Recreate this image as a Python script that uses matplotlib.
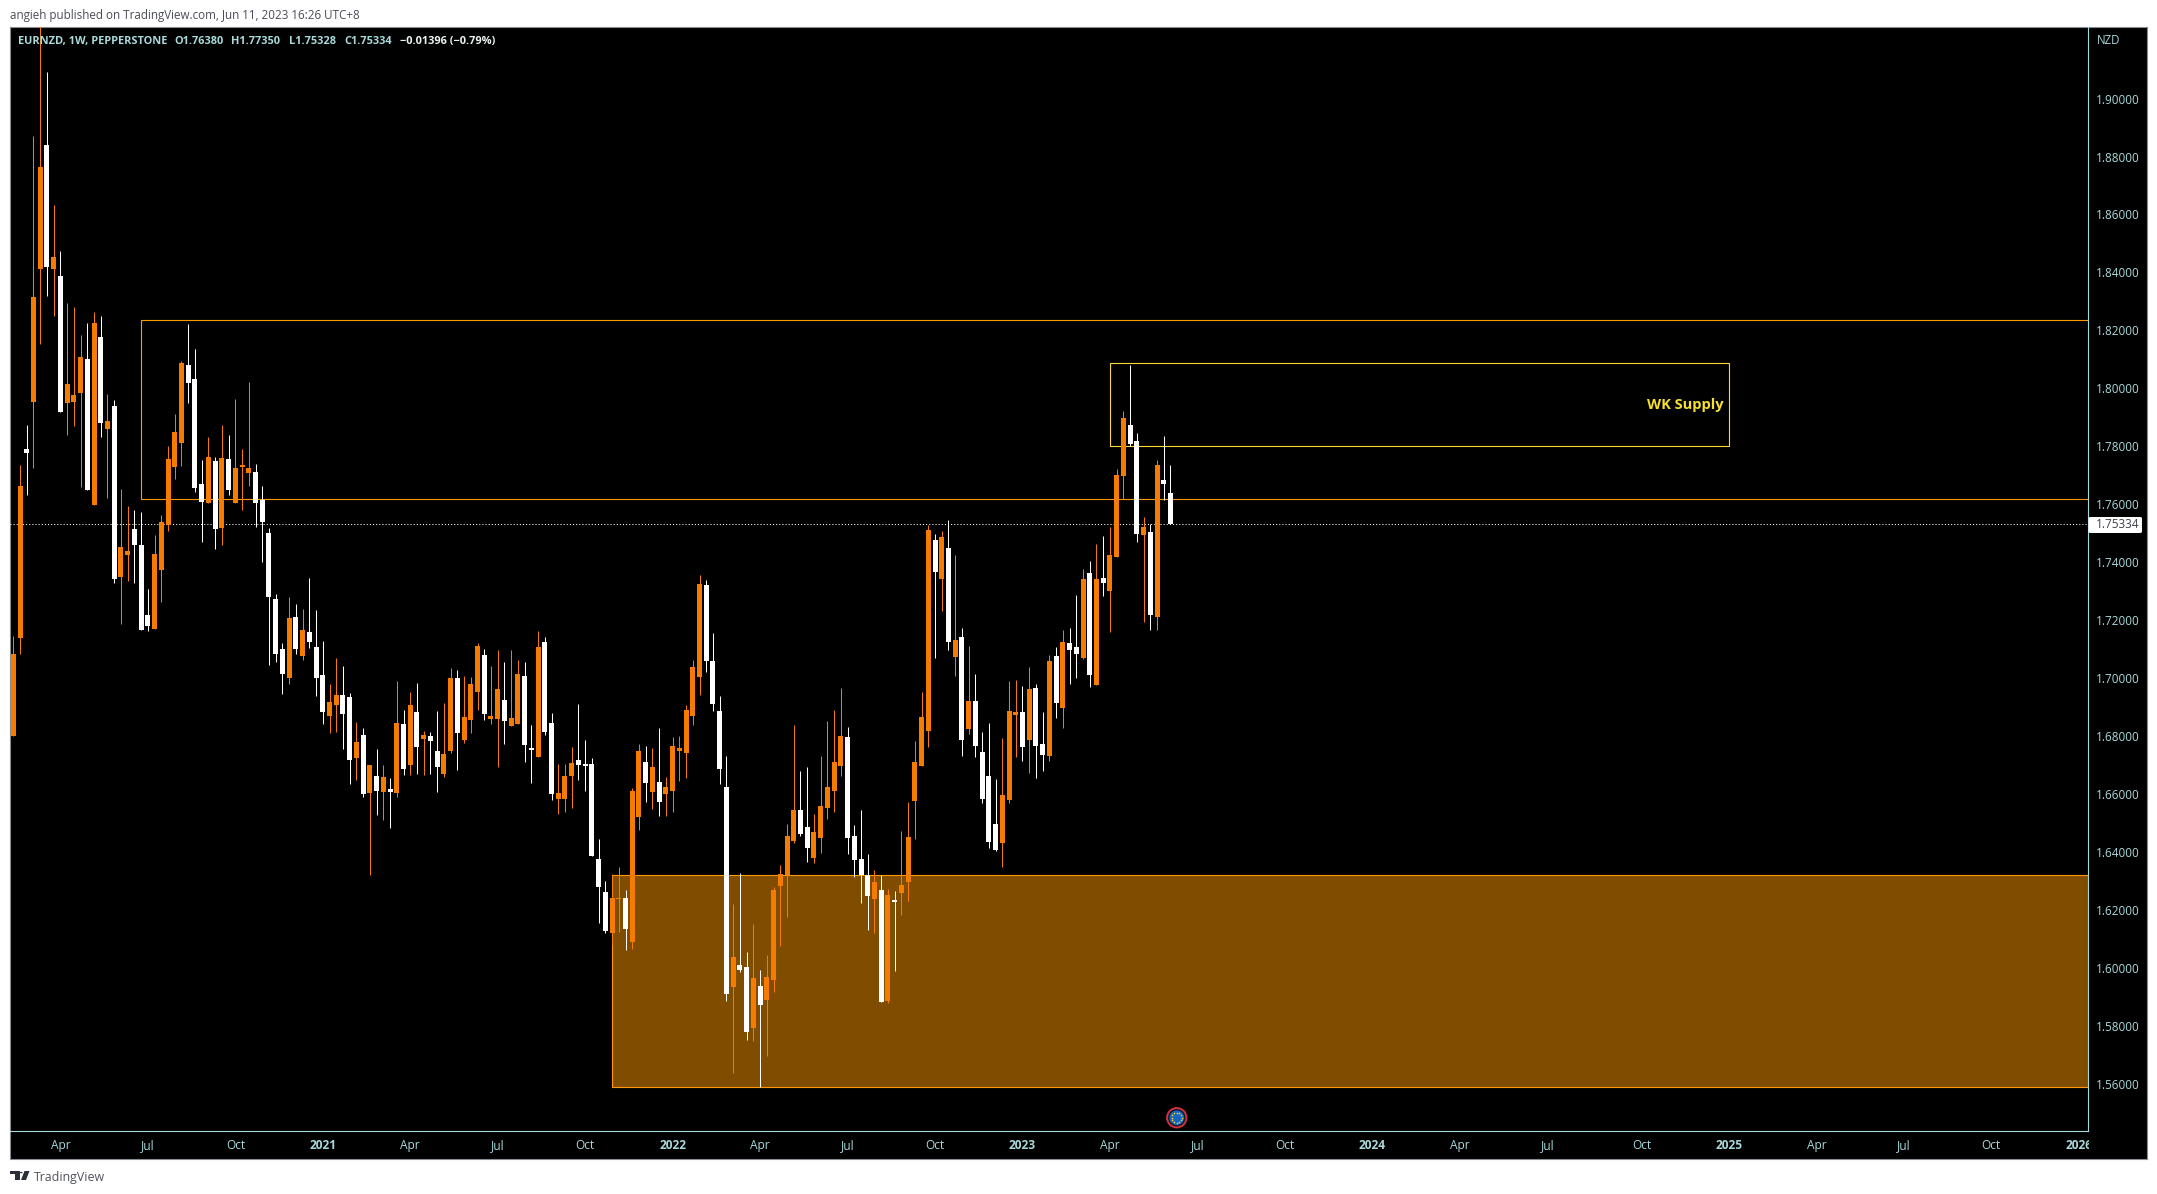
import numpy as np
import pandas as pd
import matplotlib
matplotlib.use("Agg")
import matplotlib.pyplot as plt
import matplotlib.dates as mdates
from matplotlib.patches import Rectangle, Circle, Polygon, FancyBboxPatch

plt.rcParams['font.family'] = ['Open Sans', 'DejaVu Sans']

#Weekly EURNZD candles
start_week = "2020-02-17"
opens = [1.6801,1.7139,1.7791,1.7953,1.8412,1.8840,1.8412,1.8388,1.7950,1.7953,
         1.7984,1.8101,1.7598,1.8177,1.7860,1.7939,1.7349,1.7425,1.7515,1.7460,
         1.7218,1.7170,1.7373,1.7529,1.7729,1.7812,1.8081,1.8032,1.7670,1.7605,
         1.7750,1.7518,1.7756,1.7605,1.7729,1.7708,1.7712,1.7615,1.7501,1.7273,
         1.7101,1.7001,1.7211,1.7077,1.7160,1.7108,1.7011,1.6870,1.6908,1.6942,
         1.6935,1.6725,1.6804,1.6604,1.6663,1.6608,1.6618,1.6604,1.6842,1.6701,
         1.6884,1.6790,1.6801,1.6749,1.6670,1.6749,1.7001,1.6787,1.6856,1.6953,
         1.7080,1.6859,1.6859,1.6925,1.6835,1.6842,1.7008,1.6759,1.6728,1.7125,
         1.6846,1.6583,1.6583,1.6663,1.6718,1.6704,1.6704,1.6376,1.6263,1.6121,
         1.6238,1.6242,1.6090,1.6521,1.6711,1.6608,1.6642,1.6601,1.6611,1.6749,
         1.6742,1.6870,1.7004,1.7322,1.7060,1.6887,1.6625,1.5935,1.6011,1.6004,
         1.5793,1.5938,1.5890,1.5959,1.6283,1.6321,1.6439,1.6545,1.6487,1.6380,
         1.6449,1.6552,1.6611,1.6697,1.6797,1.6456,1.6376,1.6321,1.6238,1.6269,
         1.5887,1.6235,1.6259,1.6297,1.6577,1.6697,1.6818,1.7477,1.7342,1.7449,
         1.7073,1.7142,1.6825,1.6922,1.6746,1.6663,1.6497,1.6432,1.6580,1.6873,
         1.6884,1.6787,1.6966,1.6773,1.6732,1.7077,1.6897,1.7122,1.7108,1.7070,
         1.7363,1.6977,1.7346,1.7301,1.7418,1.7698,1.7874,1.7819,1.7494,1.7505,
         1.7211,1.7684,1.76380]
highs = [1.7146,1.7736,1.7874,1.8871,1.9271,1.9092,1.8633,1.8474,1.8295,1.8281,
         1.8184,1.8226,1.8264,1.8250,1.7981,1.7960,1.7653,1.7594,1.7581,1.7574,
         1.7308,1.7494,1.7563,1.7801,1.7912,1.8095,1.8222,1.8136,1.7753,1.7832,
         1.7763,1.7874,1.7839,1.7963,1.7791,1.8022,1.7739,1.7663,1.7518,1.7291,
         1.7122,1.7280,1.7256,1.7239,1.7346,1.7236,1.7129,1.6980,1.7070,1.7042,
         1.6949,1.6849,1.6828,1.6701,1.6756,1.6701,1.6656,1.6991,1.6891,1.6953,
         1.6984,1.6818,1.6815,1.6887,1.6915,1.7035,1.7028,1.7008,1.7004,1.7122,
         1.7101,1.7042,1.7097,1.7056,1.7097,1.7063,1.7056,1.6839,1.7163,1.7142,
         1.6880,1.6704,1.6704,1.6763,1.6911,1.6787,1.6725,1.6445,1.6301,1.6325,
         1.6349,1.6269,1.6621,1.6773,1.6766,1.6759,1.6828,1.6659,1.6797,1.6801,
         1.6908,1.7063,1.7356,1.7339,1.7156,1.6939,1.6732,1.6221,1.6328,1.6056,
         1.6152,1.5993,1.6045,1.6280,1.6356,1.6497,1.6839,1.6680,1.6694,1.6532,
         1.6732,1.6853,1.6891,1.6966,1.6832,1.6494,1.6545,1.6394,1.6339,1.6321,
         1.6273,1.6266,1.6473,1.6573,1.6784,1.6953,1.7529,1.7498,1.7508,1.7546,
         1.7425,1.7173,1.7111,1.7015,1.6815,1.6846,1.6652,1.6794,1.6991,1.6994,
         1.6973,1.7039,1.6980,1.6884,1.7080,1.7108,1.7166,1.7173,1.7287,1.7377,
         1.7405,1.7463,1.7491,1.7522,1.7722,1.7922,1.8081,1.7846,1.7556,1.7532,
         1.7753,1.7836,1.77350]
lows = [1.6801,1.7084,1.7632,1.7725,1.8153,1.8319,1.8250,1.7919,1.7839,1.7870,
        1.7660,1.7650,1.7598,1.7832,1.7622,1.7329,1.7187,1.7336,1.7329,1.7166,
        1.7163,1.7170,1.7263,1.7508,1.7687,1.7732,1.7950,1.7643,1.7470,1.7605,
        1.7446,1.7460,1.7632,1.7605,1.7581,1.7663,1.7522,1.7401,1.7046,1.7056,
        1.6946,1.6980,1.7084,1.7063,1.7104,1.6939,1.6842,1.6811,1.6815,1.6756,
        1.6635,1.6649,1.6590,1.6321,1.6528,1.6511,1.6483,1.6590,1.6666,1.6666,
        1.6670,1.6666,1.6670,1.6608,1.6659,1.6742,1.6684,1.6777,1.6811,1.6891,
        1.6856,1.6842,1.6694,1.6773,1.6835,1.6842,1.6711,1.6639,1.6728,1.6804,
        1.6580,1.6532,1.6539,1.6552,1.6649,1.6611,1.6387,1.6156,1.6121,1.6080,
        1.6125,1.6063,1.6066,1.6477,1.6573,1.6549,1.6525,1.6525,1.6539,1.6646,
        1.6656,1.6839,1.6942,1.7022,1.6887,1.6635,1.5887,1.5638,1.5987,1.5752,
        1.5749,1.5590,1.5697,1.5918,1.6076,1.6176,1.6432,1.6456,1.6366,1.6363,
        1.6397,1.6514,1.6539,1.6663,1.6394,1.6314,1.6225,1.6131,1.6121,1.5883,
        1.5880,1.5990,1.6183,1.6232,1.6445,1.6697,1.6763,1.7070,1.7232,1.7097,
        1.7008,1.6732,1.6808,1.6728,1.6570,1.6414,1.6404,1.6349,1.6570,1.6728,
        1.6715,1.6673,1.6656,1.6680,1.6715,1.6863,1.6828,1.6980,1.7001,1.7066,
        1.6970,1.6977,1.7284,1.7160,1.7418,1.7618,1.7801,1.7470,1.7194,1.7166,
        1.7166,1.7615,1.75328]
closes = [1.7084,1.7663,1.7777,1.8315,1.8764,1.8419,1.8453,1.7919,1.8015,1.7977,
          1.8108,1.7650,1.8226,1.7881,1.7888,1.7342,1.7453,1.7439,1.7460,1.7166,
          1.7180,1.7429,1.7539,1.7756,1.7850,1.8088,1.8019,1.7656,1.7608,1.7763,
          1.7515,1.7760,1.7650,1.7725,1.7736,1.7725,1.7605,1.7539,1.7280,1.7084,
          1.7015,1.7208,1.7101,1.7166,1.7125,1.7001,1.6884,1.6918,1.6942,1.6877,
          1.6718,1.6780,1.6601,1.6701,1.6611,1.6659,1.6608,1.6846,1.6687,1.6908,
          1.6763,1.6804,1.6784,1.6694,1.6739,1.7001,1.6811,1.6866,1.6980,1.7111,
          1.6877,1.6870,1.6963,1.6853,1.6863,1.7015,1.6770,1.6753,1.7108,1.6815,
          1.6601,1.6604,1.6663,1.6708,1.6701,1.6697,1.6387,1.6280,1.6128,1.6242,
          1.6242,1.6135,1.6611,1.6749,1.6639,1.6694,1.6573,1.6625,1.6766,1.6759,
          1.6891,1.7039,1.7325,1.7060,1.6911,1.6687,1.5911,1.6038,1.5993,1.5780,
          1.5966,1.5873,1.5969,1.6269,1.6325,1.6456,1.6545,1.6463,1.6414,1.6470,
          1.6559,1.6625,1.6711,1.6801,1.6449,1.6373,1.6321,1.6249,1.6297,1.5883,
          1.6252,1.6228,1.6287,1.6452,1.6711,1.6866,1.7512,1.7367,1.7487,1.7125,
          1.7132,1.6787,1.6922,1.6766,1.6583,1.6435,1.6407,1.6597,1.6887,1.6884,
          1.6763,1.6963,1.6766,1.6735,1.7060,1.6915,1.7125,1.7097,1.7084,1.7342,
          1.7011,1.7342,1.7329,1.7425,1.7701,1.7898,1.7808,1.7498,1.7522,1.7218,
          1.7736,1.7670,1.75334]

#Axis ticks
price_ticks = [1.56,1.58,1.60,1.62,1.64,1.66,1.68,1.70,1.72,1.74,1.76,1.78,
               1.80,1.82,1.84,1.86,1.88,1.90]
tick_dates = ["2020-04-06","2020-07-06","2020-10-05","2021-01-04","2021-04-05",
              "2021-07-05","2021-10-04","2022-01-03","2022-04-04","2022-07-04",
              "2022-10-03","2023-01-02","2023-04-03","2023-07-03","2023-10-02",
              "2024-01-01","2024-04-01","2024-07-01","2024-10-07","2025-01-06",
              "2025-04-07","2025-07-07","2025-10-06","2026-01-05"]
tick_labels = ["Apr","Jul","Oct","2021","Apr","Jul","Oct","2022","Apr","Jul","Oct",
               "2023","Apr","Jul","Oct","2024","Apr","Jul","Oct","2025","Apr","Jul",
               "Oct","2026"]

#Zones drawn on the chart
last_price = 1.75334
outline_zone = ("2020-06-29", 1.7617, 1.8235)
filled_zone = ("2021-11-01", 1.5590, 1.6320)
supply_zone = ("2023-04-03", "2025-01-06", 1.7800, 1.8087)

W, H = 2157, 1194
ORANGE = "#f57c00"
ZONE = "#ff9800"
YELLOW = "#fdd835"
TEAL = "#a8dadc"

def fx(px):
    return px / W

def fy(py):
    return 1 - py / H

def axes_box(x0, y0, x1, y1):
    return [fx(x0), fy(y1), (x1 - x0) / W, (y1 - y0) / H]

fig = plt.figure(figsize=(W / 100, H / 100), dpi=100, facecolor="white")

#black panel with grey border behind everything
frame = fig.add_axes(axes_box(10, 27, 2147, 1159), zorder=-1)
frame.set_facecolor("black")
frame.set_xticks([])
frame.set_yticks([])
for s in frame.spines.values():
    s.set_color("#8a8c94")
    s.set_linewidth(0.8)

ax = fig.add_axes(axes_box(10, 27, 2087.5, 1131), zorder=0)
ax.patch.set_alpha(0)

weeks = pd.date_range(start_week, periods=len(opens), freq="7D")
x = mdates.date2num(weeks)
o = np.array(opens)
h = np.array(highs)
l = np.array(lows)
c = np.array(closes)
colors = [ORANGE if c[k] >= o[k] else "white" for k in range(len(o))]

#zones first, candles go on top
right_end = mdates.date2num(pd.Timestamp("2027-01-01"))
left = mdates.date2num(pd.Timestamp(outline_zone[0]))
ax.add_patch(Rectangle((left, outline_zone[1]), right_end - left, outline_zone[2] - outline_zone[1],
                       fill=False, edgecolor=ZONE, lw=0.8, zorder=1))
left = mdates.date2num(pd.Timestamp(filled_zone[0]))
ax.add_patch(Rectangle((left, filled_zone[1]), right_end - left, filled_zone[2] - filled_zone[1],
                       facecolor=(1, 0.596, 0, 0.5), edgecolor=ZONE, lw=0.8, zorder=1))
left = mdates.date2num(pd.Timestamp(supply_zone[0]))
right = mdates.date2num(pd.Timestamp(supply_zone[1]))
ax.add_patch(Rectangle((left, supply_zone[2]), right - left, supply_zone[3] - supply_zone[2],
                       fill=False, edgecolor=YELLOW, lw=0.8, zorder=1))
ax.text(right - 6, (supply_zone[2] + supply_zone[3]) / 2, "WK Supply", color="#f7e02e",
        fontsize=10.5, fontweight="bold", ha="right", va="center", zorder=4)

ax.axhline(last_price, color="white", lw=0.75, linestyle=(0, (1, 2)), zorder=1.5)

#candles
wicks = ax.vlines(x, l, h, colors=colors, lw=0.72, zorder=2)
wicks.set_snap(True)
ax.bar(x, np.abs(c - o), bottom=np.minimum(o, c), width=5.2, color=colors, linewidth=0, zorder=3)

x0 = x[0]
ax.set_xlim(x0 - 0.49 * 7, x0 + 308.3 * 7)
ax.set_ylim(1.934 - 0.000345 * 1131, 1.934 - 0.000345 * 27)

ax.yaxis.tick_right()
ax.set_yticks(price_ticks)
ax.set_yticklabels(["%.5f" % p for p in price_ticks])
ax.set_xticks(mdates.date2num(pd.to_datetime(tick_dates)))
ax.set_xticklabels(tick_labels)
ax.tick_params(axis="y", length=0, pad=6.0, labelsize=8.5, labelcolor=TEAL)
ax.tick_params(axis="x", length=0, pad=5.5, labelsize=8.6, labelcolor=TEAL)
for lab in ax.get_xticklabels():
    if lab.get_text().isdigit():
        lab.set_fontweight("bold")

for side in ["top", "left"]:
    ax.spines[side].set_visible(False)
for side in ["right", "bottom"]:
    ax.spines[side].set_color(TEAL)
    ax.spines[side].set_linewidth(0.8)

#covers the part of the last date label that runs under the price scale
fig.add_artist(Rectangle((fx(2088.5), fy(1158)), 57 / W, 26 / H, transform=fig.transFigure,
                         facecolor="black", edgecolor="none"))

#last price tag
fig.add_artist(FancyBboxPatch((fx(2088.5), fy(533)), 53.5 / W, 16 / H, transform=fig.transFigure,
                              boxstyle="round,pad=0.0,rounding_size=0.001",
                              facecolor="white", edgecolor="none", zorder=5))
fig.text(fx(2096), fy(524.8), "%.5f" % last_price, color="#3c3f4a", fontsize=8.5,
         va="center", zorder=6)

#header texts
fig.text(fx(10), fy(15), "angieh published on TradingView.com, Jun 11, 2023 16:26 UTC+8",
         color="#4a4d57", fontsize=8.33, va="center")
fig.text(fx(18), fy(41.5), "EURNZD, 1W, PEPPERSTONE", color=TEAL, fontsize=7.95,
         fontweight="bold", va="center")
for px, s in [(174, "O1.76380"), (231.5, "H1.77350"), (289, "L1.75328"), (344, "C1.75334")]:
    fig.text(fx(px), fy(41.5), s, color=TEAL, fontsize=7.95, fontweight="bold", va="center")
fig.text(fx(400.5), fy(41.5), "\u22120.01396 (\u22120.79%)", color="#eaf4f4", fontsize=7.95,
         fontweight="bold", va="center")
fig.text(fx(2097), fy(41), "NZD", color=TEAL, fontsize=8.3, va="center")

#footer logo and name
for pts in [[(10, 1171), (19.5, 1171), (19.5, 1180), (14.7, 1180), (14.7, 1174), (10, 1174)],
            [(24.5, 1171), (29.5, 1171), (26, 1180), (21, 1180)]]:
    fig.add_artist(Polygon([(fx(a), fy(b)) for a, b in pts], transform=fig.transFigure,
                           facecolor="#2a2e39", edgecolor="none"))
fig.add_artist(Circle((fx(21.3), fy(1172.6)), 1.3 / W, transform=fig.transFigure,
                      facecolor="#2a2e39", edgecolor="none"))
fig.text(fx(34), fy(1177), "TradingView", color="#50535e", fontsize=8.9, va="center")

#EU event marker
ev = fig.add_axes(axes_box(1165.5, 1106.5, 1188, 1129), zorder=3)
ev.set_xlim(-1.1, 1.1)
ev.set_ylim(-1.1, 1.1)
ev.axis("off")
ev.add_patch(Circle((0, 0), 0.95, facecolor="#0d1b2a", edgecolor="#d32f3f", lw=1.4))
ev.add_patch(Circle((0, 0), 0.72, facecolor="#1565c0", edgecolor="none"))
ang = np.linspace(0, 2 * np.pi, 12, endpoint=False)
ev.scatter(0.48 * np.cos(ang), 0.48 * np.sin(ang), s=1.6, color="#e8c52a", linewidths=0)

fig.savefig("out.png", dpi=100, facecolor="white")
